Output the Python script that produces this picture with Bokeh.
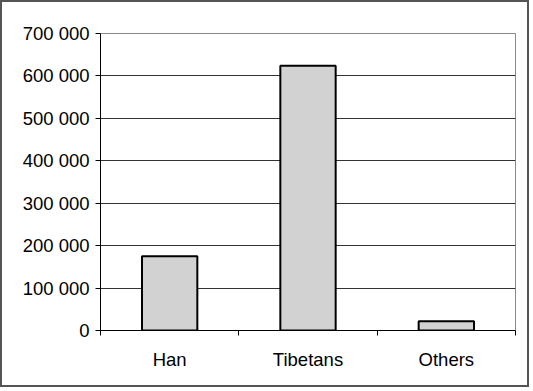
from bokeh.plotting import figure
from bokeh.models import Range1d, FixedTicker, ColumnDataSource
from bokeh.embed import file_html
from bokeh.resources import INLINE

categories = ["Han", "Tibetans", "Others"]
population = [175000, 624000, 22000]
y_ticks = [0, 100000, 200000, 300000, 400000, 500000, 600000, 700000]
y_tick_labels = ["0", "100 000", "200 000", "300 000", "400 000", "500 000", "600 000", "700 000"]

xpos = [i + 0.5 for i in range(len(categories))]
src = ColumnDataSource(dict(x=xpos, top=population, cat=categories))

p = figure(width=529, height=387, output_backend="svg", toolbar_location=None,
           x_range=Range1d(0, len(categories)), y_range=Range1d(0, 700000),
           min_border_left=98, min_border_right=16, min_border_top=31, min_border_bottom=59)

p.styles = {"border": "2px solid #555555"}
p.outline_line_color = "#8a8a8a"
p.outline_line_width = 1
p.background_fill_color = "white"
p.border_fill_color = "white"

p.vbar(x="x", top="top", width=0.4, source=src, fill_color="#d2d2d2",
       line_color="black", line_width=2)

FONT = "Liberation Sans"

p.xgrid.visible = False
p.ygrid.ticker = FixedTicker(ticks=y_ticks)
p.ygrid.grid_line_color = "#333333"
p.ygrid.grid_line_width = 1

p.yaxis.ticker = FixedTicker(ticks=y_ticks)
p.yaxis.major_label_overrides = {t: l for t, l in zip(y_ticks, y_tick_labels)}
p.yaxis.major_label_text_font = FONT
p.yaxis.major_label_text_font_size = "18.5px"
p.yaxis.major_label_text_color = "black"
p.yaxis.major_tick_out = 5
p.yaxis.major_tick_in = 0
p.yaxis.minor_tick_line_color = None
p.yaxis.major_label_standoff = 6
p.yaxis.axis_line_color = "black"
p.yaxis.major_tick_line_color = "black"

p.xaxis.ticker = FixedTicker(ticks=xpos, minor_ticks=list(range(len(categories) + 1)))
p.xaxis.major_label_overrides = {x: c for x, c in zip(xpos, categories)}
p.xaxis.major_label_text_font = FONT
p.xaxis.major_label_text_font_size = "18.5px"
p.xaxis.major_label_text_color = "black"
p.xaxis.major_tick_line_color = None
p.xaxis.major_tick_out = 0
p.xaxis.major_tick_in = 0
p.xaxis.minor_tick_out = 5
p.xaxis.minor_tick_in = 0
p.xaxis.minor_tick_line_color = "black"
p.xaxis.major_label_standoff = 13
p.xaxis.axis_line_color = "black"

open("out.html", "w").write(file_html(p, INLINE))
